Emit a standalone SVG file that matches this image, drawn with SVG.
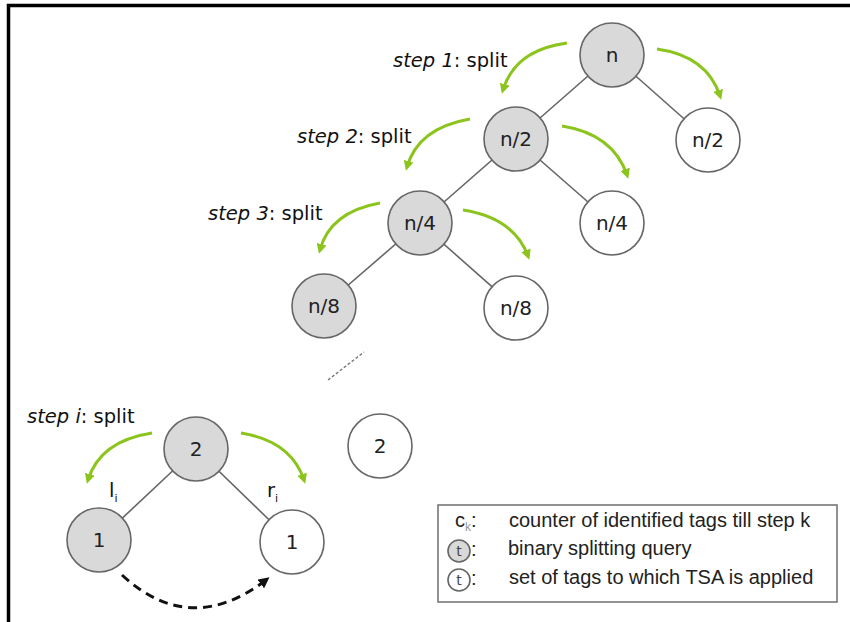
<svg xmlns="http://www.w3.org/2000/svg" width="850" height="622" viewBox="0 0 850 622">
  <style>
    .frame { stroke: #000; stroke-width: 3.5; fill: none; }
    .edge { stroke: #666; stroke-width: 1.6; fill: none; }
    .split { stroke: #8cc41e; stroke-width: 3; fill: none; marker-end: url(#greenHead); }
    .swap { stroke: #111; stroke-width: 3; fill: none; stroke-dasharray: 9 6; marker-end: url(#blackHead); }
    .query { fill: #d9d9d9; stroke: #666; stroke-width: 1.6; }
    .tsa { fill: #fff; stroke: #666; stroke-width: 1.6; }
    .lbl { font-family: "DejaVu Sans", Verdana, sans-serif; font-size: 20px; fill: #222; text-anchor: middle; }
    .step { font-family: "DejaVu Sans", Verdana, sans-serif; font-size: 19.5px; fill: #111; }
    .step .it { font-style: italic; }
    .legend-box { fill: #fff; stroke: #777; stroke-width: 1.6; }
    .leg { font-family: "Liberation Sans", Arial, sans-serif; font-size: 20px; fill: #222; }
    .mini { font-family: "DejaVu Sans", Verdana, sans-serif; font-size: 14px; fill: #444; text-anchor: middle; }
  </style>
  <defs>
    <marker id="greenHead" viewBox="0 0 10 10" refX="6" refY="5" markerWidth="10" markerHeight="10" markerUnits="userSpaceOnUse" orient="auto">
      <path d="M0,0 L10,5 L0,10 Z" fill="#8cc41e"/>
    </marker>
    <marker id="blackHead" viewBox="0 0 10 10" refX="6" refY="5" markerWidth="11" markerHeight="11" markerUnits="userSpaceOnUse" orient="auto">
      <path d="M0,0 L10,5 L0,10 Z" fill="#111"/>
    </marker>
  </defs>

  <rect width="850" height="622" fill="#fff"/>
  <!-- frame (top and left edges) -->
  <path class="frame" d="M8.5,622 L8.5,5.5 L850,5.5"/>

  <!-- connectors -->
  <g id="connectors">
    <!-- tree edges -->
    <line class="edge" x1="612" y1="55" x2="516" y2="139"/>
    <line class="edge" x1="612" y1="55" x2="708" y2="140"/>
    <line class="edge" x1="516" y1="139" x2="420" y2="223"/>
    <line class="edge" x1="516" y1="139" x2="612" y2="223"/>
    <line class="edge" x1="420" y1="223" x2="324" y2="306"/>
    <line class="edge" x1="420" y1="223" x2="516" y2="308"/>
    <line class="edge" x1="196" y1="449" x2="99" y2="540"/>
    <line class="edge" x1="196" y1="449" x2="292" y2="542"/>
    <!-- continuation -->
    <line x1="328" y1="380" x2="364" y2="352" stroke="#777" stroke-width="1.4" stroke-dasharray="3 2"/>
    <!-- split arrows -->
    <path class="split" d="M567,43 Q515,50 503,90"/>
    <path class="split" d="M657,49 Q707,56 720,96"/>
    <path class="split" d="M470,119 Q418,128 407,167"/>
    <path class="split" d="M562,126 Q613,134 627,175"/>
    <path class="split" d="M380,203 Q330,212 320,250"/>
    <path class="split" d="M463,210 Q514,218 528,256"/>
    <path class="split" d="M152,433 Q100,441 88,480"/>
    <path class="split" d="M241,433 Q291,441 304,480"/>
    <!-- dashed swap arrow -->
    <path class="swap" d="M122,575 Q190,638 266,580"/>
  </g>

  <!-- step labels -->
  <text class="step" x="393" y="67"><tspan class="it">step 1</tspan>: split</text>
  <text class="step" x="297" y="143"><tspan class="it">step 2</tspan>: split</text>
  <text class="step" x="208" y="220"><tspan class="it">step 3</tspan>: split</text>
  <text class="step" x="27" y="423"><tspan class="it">step i</tspan>: split</text>

  <!-- nodes -->
  <g id="node-n"><circle class="query" cx="612" cy="55" r="32"/><text class="lbl" x="612" y="62">n</text></g>
  <g id="node-n2-left"><circle class="query" cx="516" cy="139" r="32"/><text class="lbl" x="516" y="146">n/2</text></g>
  <g id="node-n2-right"><circle class="tsa" cx="708" cy="140" r="32"/><text class="lbl" x="708" y="147">n/2</text></g>
  <g id="node-n4-left"><circle class="query" cx="420" cy="223" r="32"/><text class="lbl" x="420" y="230">n/4</text></g>
  <g id="node-n4-right"><circle class="tsa" cx="612" cy="223" r="32"/><text class="lbl" x="612" y="230">n/4</text></g>
  <g id="node-n8-left"><circle class="query" cx="324" cy="306" r="32"/><text class="lbl" x="324" y="313">n/8</text></g>
  <g id="node-n8-right"><circle class="tsa" cx="516" cy="308" r="32"/><text class="lbl" x="516" y="315">n/8</text></g>
  <g id="node-2-tsa"><circle class="tsa" cx="380" cy="446" r="32"/><text class="lbl" x="380" y="453">2</text></g>
  <g id="node-2-query"><circle class="query" cx="196" cy="449" r="32"/><text class="lbl" x="196" y="456">2</text></g>
  <g id="node-1-left"><circle class="query" cx="99" cy="540" r="32"/><text class="lbl" x="99" y="547">1</text></g>
  <g id="node-1-right"><circle class="tsa" cx="292" cy="542" r="32"/><text class="lbl" x="292" y="549">1</text></g>

  <!-- branch labels -->
  <text class="step" x="109" y="497" font-size="21">l<tspan font-size="11" dy="5">i</tspan></text>
  <text class="step" x="267" y="497" font-size="21">r<tspan font-size="11" dy="5">i</tspan></text>

  <!-- legend -->
  <g id="legend">
    <rect class="legend-box" x="438" y="505" width="399" height="97"/>
    <text class="leg" x="455" y="527">c<tspan font-size="12" fill="#999" dy="4">k</tspan><tspan dy="-4">:</tspan></text>
    <text class="leg" x="509" y="527">counter of identified tags till step k</text>
    <circle class="query" cx="459" cy="551" r="11" stroke-width="1.3"/>
    <text class="mini" x="459" y="556">t</text>
    <text class="leg" x="471" y="556">:</text>
    <text class="leg" x="508" y="555">binary splitting query</text>
    <circle class="tsa" cx="459" cy="580" r="11" stroke-width="1.3"/>
    <text class="mini" x="459" y="585">t</text>
    <text class="leg" x="471" y="585">:</text>
    <text class="leg" x="509" y="584">set of tags to which TSA is applied</text>
  </g>
</svg>
